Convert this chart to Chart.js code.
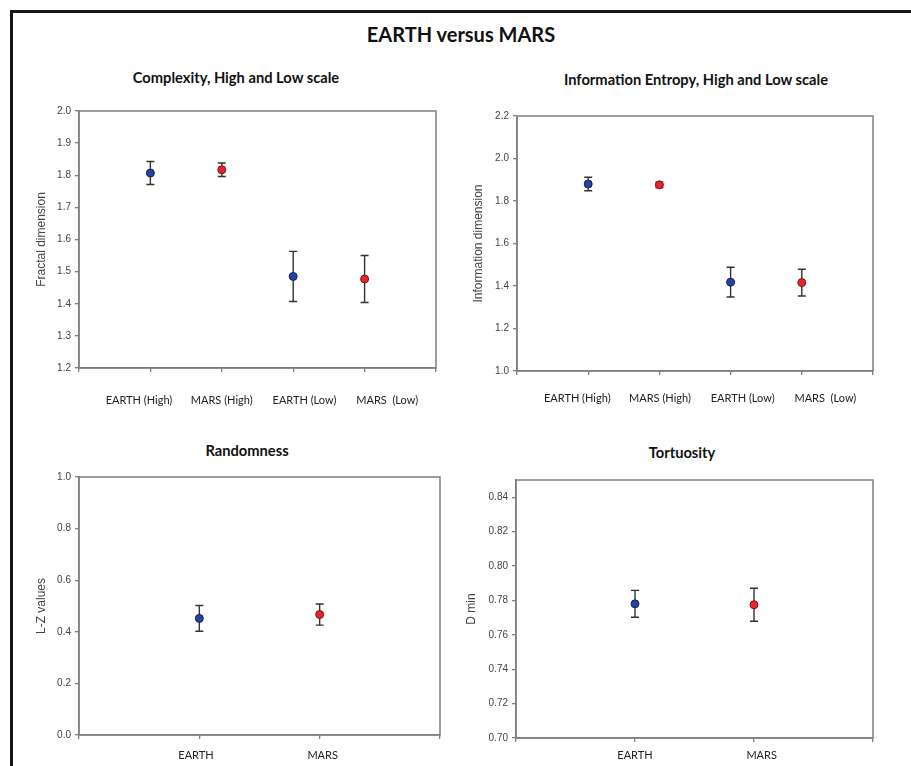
<!DOCTYPE html>
<html>
<head>
<meta charset="utf-8">
<title>EARTH versus MARS</title>
<script src="https://cdn.jsdelivr.net/npm/chart.js@4.4.1/dist/chart.umd.min.js"></script>
<style>
  html, body { margin: 0; padding: 0; background: #fff; }
  body { width: 911px; height: 766px; position: relative; overflow: hidden; }
  #frame {
    position: absolute; left: 10px; top: 10px; width: 930px; height: 790px;
    border-left: 3px solid #161616; border-top: 3px solid #161616;
  }
  #mainTitle {
    position: absolute; left: 161px; width: 600px; top: 22px; text-align: center;
    font: bold 20px Lato, sans-serif; line-height: 24px; color: #111;
  }
  .plotTitle {
    position: absolute; width: 400px; text-align: center;
    font: bold 14.7px Lato, sans-serif; line-height: 18px; color: #111;
  }
  canvas { position: absolute; }
</style>
</head>
<body>
<div id="frame"></div>
<div id="mainTitle">EARTH versus MARS</div>

<div class="plotTitle" style="left:36px; top:68px;">Complexity, High and Low scale</div>
<div class="plotTitle" style="left:496px; top:70px;">Information Entropy, High and Low scale</div>
<div class="plotTitle" style="left:47px; top:441px;">Randomness</div>
<div class="plotTitle" style="left:482px; top:443px;">Tortuosity</div>

<canvas id="complexityChart" width="436" height="312" style="left:14px; top:101px;"></canvas>
<canvas id="entropyChart" width="451" height="307" style="left:460px; top:106px;"></canvas>
<canvas id="randomnessChart" width="436" height="299" style="left:14px; top:467px;"></canvas>
<canvas id="tortuosityChart" width="451" height="296" style="left:460px; top:470px;"></canvas>

<script>
/*****************************************************************************
 *                                  DATA
 *****************************************************************************/

const scaleLabels = ["EARTH (High)", "MARS (High)", "EARTH (Low)", "MARS  (Low)"];
const planetLabels = ["EARTH", "MARS"];

// Complexity - fractal dimension (mean, error)
const complexityMeans = [1.807, 1.817, 1.485, 1.477];
const complexityErrors = [0.036, 0.021, 0.078, 0.073];
const complexityTicks = [1.2, 2.0, 0.1];

// Information entropy - information dimension
const entropyMeans = [1.880, 1.876, 1.418, 1.416];
const entropyErrors = [0.032, 0.013, 0.070, 0.063];
const entropyTicks = [1.0, 2.2, 0.2];

// Randomness - L-Z values
const randomnessMeans = [0.452, 0.467];
const randomnessErrors = [0.050, 0.041];
const randomnessTicks = [0.0, 1.0, 0.2];

// Tortuosity - D min
const tortuosityMeans = [0.778, 0.7775];
const tortuosityErrors = [0.0078, 0.0096];
const tortuosityTicks = [0.70, 0.85, 0.02];

/*****************************************************************************
 *                                  STYLE
 *****************************************************************************/

const EARTH_COLOR = "#2443a3";
const EARTH_EDGE = "#16224f";
const MARS_COLOR = "#e8232b";
const MARS_EDGE = "#7a1414";
const FRAME_COLOR = "#7f7f7f";
const TICK_COLOR = "#444444";

/*****************************************************************************
 *                                  PLUGINS
 *****************************************************************************/

// plot frame on all four sides + error bars, drawn under the points
const errorBarPlugin = {
  id: "errorBars",
  beforeDatasetsDraw(chart) {
    const ctx = chart.ctx;
    const area = chart.chartArea;
    const yScale = chart.scales.y;

    ctx.save();
    ctx.strokeStyle = FRAME_COLOR;
    ctx.lineWidth = 1.5;
    ctx.strokeRect(area.left, area.top, area.right - area.left, area.bottom - area.top);

    ctx.strokeStyle = "#333333";
    ctx.lineWidth = 1.4;
    chart.data.datasets.forEach((ds, di) => {
      const meta = chart.getDatasetMeta(di);
      meta.data.forEach((pt, i) => {
        const v = ds.data[i].y;
        const err = ds.errors[i];
        const top = yScale.getPixelForValue(v + err);
        const bot = yScale.getPixelForValue(v - err);
        ctx.beginPath();
        ctx.moveTo(pt.x, top);
        ctx.lineTo(pt.x, bot);
        ctx.moveTo(pt.x - 4, top);
        ctx.lineTo(pt.x + 4, top);
        ctx.moveTo(pt.x - 4, bot);
        ctx.lineTo(pt.x + 4, bot);
        ctx.stroke();
      });
    });
    ctx.restore();
  },
};

/*****************************************************************************
 *                                  CHART BUILDER
 *****************************************************************************/

function getPointColors(labels) {
  const fill = labels.map((l) => (l.startsWith("EARTH") ? EARTH_COLOR : MARS_COLOR));
  const edge = labels.map((l) => (l.startsWith("EARTH") ? EARTH_EDGE : MARS_EDGE));
  return { fill, edge };
}

function getChartConfig(s) {
  const colors = getPointColors(s.labels);
  const decimals = s.ticks[2] < 0.1 ? 2 : 1;

  return {
    type: "scatter",
    data: {
      datasets: [
        {
          data: s.means.map((m, i) => ({ x: i + 1, y: m })),
          errors: s.errors,
          pointRadius: 4,
          pointBorderWidth: 1,
          pointBackgroundColor: colors.fill,
          pointBorderColor: colors.edge,
        },
      ],
    },
    options: {
      responsive: false,
      animation: false,
      devicePixelRatio: 1,
      layout: { padding: { top: 10, right: s.padRight, left: 0, bottom: 0 } },
      plugins: {
        legend: { display: false },
        tooltip: { enabled: false },
      },
      scales: {
        x: {
          type: "linear",
          position: "bottom",
          min: 0,
          max: s.labels.length + 1,
          grid: { drawOnChartArea: false, drawTicks: true, tickLength: 4, color: FRAME_COLOR, lineWidth: 1.3 },
          border: { display: true, color: FRAME_COLOR, width: 1.5 },
          ticks: { display: false, stepSize: 1 },
          afterFit: (axis) => { axis.height = 4; },
        },
        xl: {
          type: "linear",
          position: "bottom",
          weight: 1,
          min: s.labelRange[0],
          max: s.labelRange[1],
          grid: { display: false, drawTicks: false },
          border: { display: false },
          afterBuildTicks: (axis) => {
            axis.ticks = s.labels.map((l, i) => ({ value: i + 1 }));
          },
          ticks: {
            autoSkip: false,
            maxRotation: 0,
            padding: s.labelPad,
            color: "#222",
            font: { family: "Lato", size: 11 },
            callback: (v, i) => s.labels[i],
          },
          afterFit: (axis) => { axis.height = s.labelHeight; },
        },
        y: {
          type: "linear",
          min: s.ticks[0],
          max: s.ticks[1],
          grid: { drawOnChartArea: false, drawTicks: true, tickLength: 4, color: FRAME_COLOR, lineWidth: 1.3 },
          border: { display: true, color: FRAME_COLOR, width: 1.5 },
          ticks: {
            stepSize: s.ticks[2],
            includeBounds: false,
            padding: 4,
            color: TICK_COLOR,
            font: { family: "Liberation Sans", size: 10 },
            callback: (v) => Number(v).toFixed(decimals),
          },
          title: {
            display: true,
            text: s.yTitle,
            color: "#444",
            font: { family: "Liberation Sans", size: 12 },
            padding: { top: s.yTitlePad, bottom: 0 },
          },
          afterFit: (axis) => { axis.width = s.yWidth; },
        },
      },
    },
    plugins: [errorBarPlugin],
  };
}

/*****************************************************************************
 *                                  RENDER
 *****************************************************************************/

const chartSettings = [
  {
    id: "complexityChart", labels: scaleLabels, means: complexityMeans, errors: complexityErrors,
    ticks: complexityTicks, yTitle: "Fractal dimension",
    yWidth: 65, yTitlePad: 20.8, padRight: 14, labelPad: 22, labelHeight: 41, labelRange: [0.275, 4.59],
  },
  {
    id: "entropyChart", labels: scaleLabels, means: entropyMeans, errors: entropyErrors,
    ticks: entropyTicks, yTitle: "Information dimension",
    yWidth: 57, yTitlePad: 11.8, padRight: 38, labelPad: 16.4, labelHeight: 38, labelRange: [0.271, 4.576],
  },
  {
    id: "randomnessChart", labels: planetLabels, means: randomnessMeans, errors: randomnessErrors,
    ticks: randomnessTicks, yTitle: "L-Z values",
    yWidth: 65, yTitlePad: 20.8, padRight: 10, labelPad: 10, labelHeight: 27, labelRange: [0.077, 2.926],
  },
  {
    id: "tortuosityChart", labels: planetLabels, means: tortuosityMeans, errors: tortuosityErrors,
    ticks: tortuosityTicks, yTitle: "D min",
    yWidth: 56, yTitlePad: 4.5, padRight: 38, labelPad: 7, labelHeight: 24, labelRange: [0.061, 2.879],
  },
];

chartSettings.forEach((s) => {
  new Chart(document.getElementById(s.id), getChartConfig(s));
});
</script>
</body>
</html>
